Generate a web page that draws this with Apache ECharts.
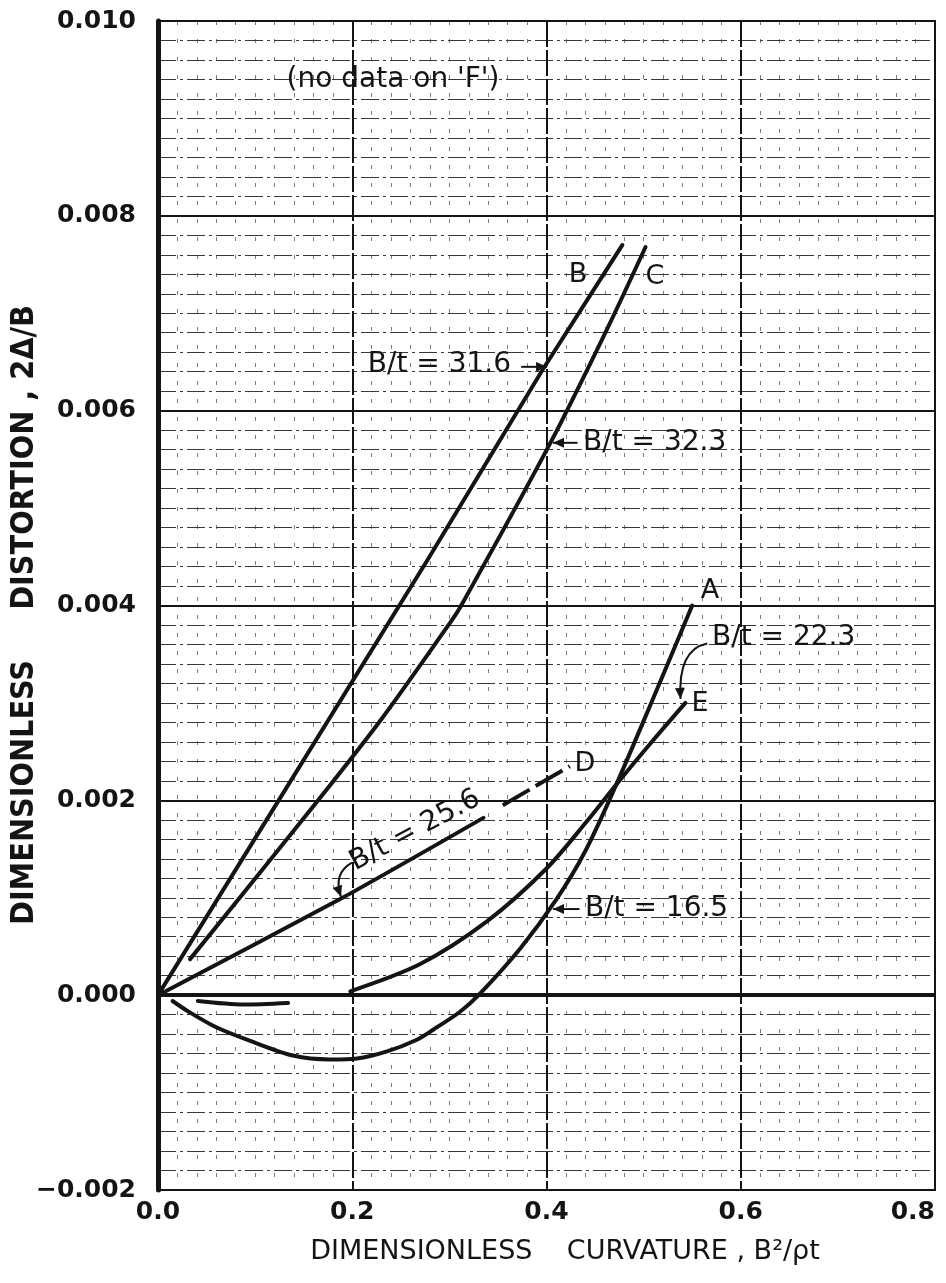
<!DOCTYPE html>
<html>
<head>
<meta charset="utf-8">
<script src="https://cdn.jsdelivr.net/npm/echarts@6/dist/echarts.min.js"></script>
<style>
  html, body { margin: 0; padding: 0; background: #ffffff; }
  #chart { width: 946px; height: 1283px; }
</style>
</head>
<body>
<div id="chart"></div>
<script>
// Axis ticks
const xTicks = [0.0, 0.2, 0.4, 0.6, 0.8];
const yTicks = [-0.002, 0.000, 0.002, 0.004, 0.006, 0.008, 0.010];

// Curvature (B^2/rho t) vs distortion (2Δ/B) for each specimen
const curveB = [[0, 0], [0.118, 0.0019], [0.277, 0.00446], [0.396, 0.00642], [0.478, 0.0077]];          // B/t = 31.6
const curveC = [[0.033, 0.00037], [0.156, 0.00189], [0.229, 0.00282], [0.297, 0.00377], [0.311, 0.00398],
                [0.404, 0.00567], [0.462, 0.00683], [0.502, 0.00768]];                                    // B/t = 32.3
const curveD = [[0, 0], [0.19, 0.001], [0.335, 0.00182]];                                                 // B/t = 25.6
const curveDExtended = [[0.355, 0.00195], [0.424, 0.00235]];                                              // B/t = 25.6 (dashed)
const curveE = [[0.198, 0.00004], [0.27, 0.00032], [0.339, 0.00076], [0.40, 0.0013], [0.442, 0.00179],
                [0.47, 0.00214], [0.505, 0.00256], [0.543, 0.0030]];                                      // B/t = 22.3
const curveA = [[0.015, -0.00006], [0.03, -0.00016], [0.06, -0.00033], [0.095, -0.00047], [0.139, -0.00062],
                [0.177, -0.00066], [0.205, -0.00065], [0.235, -0.00058], [0.266, -0.00046], [0.284, -0.00035],
                [0.311, -0.00017], [0.33, 0], [0.373, 0.00048], [0.41, 0.00098], [0.44, 0.00148],
                [0.47, 0.00212], [0.51, 0.00305], [0.55, 0.0040]];                                        // B/t = 16.5
const shortSegment = [[0.041, -0.00006], [0.088, -0.0000957], [0.134, -0.00008]];

const INK = '#141414';
const FONT = "'DejaVu Sans', 'Noto Sans', sans-serif";

function fmtY(v) {
  const s = Math.abs(v).toFixed(3);
  return v < -1e-9 ? '\u2212' + s : s;
}

const chart = echarts.init(document.getElementById('chart'), null, { renderer: 'canvas' });

function curve(name, data, opts) {
  return Object.assign({
    name: name,
    type: 'line',
    data: data,
    showSymbol: false,
    symbol: 'none',
    silent: true,
    animation: false,
    smooth: 0.3,
    lineStyle: { color: INK, width: 4, cap: 'round', join: 'round' },
    z: 5
  }, opts || {});
}

chart.setOption({
  animation: false,
  backgroundColor: '#ffffff',
  grid: {
    left: 158, right: 11, top: 21, bottom: 93,
    outerBoundsMode: 'none',
    containLabel: false,
    show: true, borderColor: INK, borderWidth: 2, backgroundColor: 'transparent'
  },
  xAxis: {
    type: 'value',
    min: xTicks[0], max: xTicks[xTicks.length - 1], interval: 0.2,
    axisLine: { onZero: false, show: true, lineStyle: { color: INK, width: 2 } },
    axisTick: { show: false },
    axisLabel: {
      margin: 10, color: INK, fontFamily: FONT, fontSize: 25, fontWeight: 'bold',
      alignMaxLabel: 'right',
      formatter: v => v.toFixed(1)
    },
    splitLine: { show: true, lineStyle: { color: INK, width: 2, type: [26, 3] } },
    minorTick: { show: false, splitNumber: 10 },
    minorSplitLine: { show: true, lineStyle: { color: '#444', width: 1, type: [4, 14], opacity: 0.7 } }
  },
  yAxis: {
    type: 'value',
    min: yTicks[0], max: yTicks[yTicks.length - 1], interval: 0.002,
    axisLine: { show: true, lineStyle: { color: INK, width: 5 } },
    axisTick: { show: false },
    axisLabel: {
      margin: 22, color: INK, fontFamily: FONT, fontSize: 25, fontWeight: 'bold',
      formatter: fmtY
    },
    splitLine: { show: true, lineStyle: { color: INK, width: 2 } },
    minorTick: { show: false, splitNumber: 10 },
    minorSplitLine: { show: true, lineStyle: { color: '#222', width: 1, type: [18, 4, 3, 4], opacity: 0.9 } }
  },
  series: [
    curve('B', curveB, { smooth: false }),
    curve('C', curveC),
    curve('D', curveD, { smooth: 0.2 }),
    curve('D-dashed', curveDExtended, { smooth: false, lineStyle: { color: INK, width: 4, type: [31, 7] } }),
    curve('E', curveE),
    curve('A', curveA),
    curve('short', shortSegment, {
      markLine: {
        silent: true, symbol: 'none', label: { show: false },
        lineStyle: { color: INK, width: 4, type: 'solid' },
        data: [{ yAxis: 0 }]
      }
    })
  ]
});

// Annotation anchors (data coordinates)
const textLabels = [
  { text: "(no data on 'F')", at: [0.242, 0.0094], align: 'center', size: 28 },
  { text: 'B', at: [0.4324, 0.00739], align: 'center', size: 27 },
  { text: 'C', at: [0.5117, 0.00737], align: 'center', size: 27 },
  { text: 'B/t = 31.6', at: [0.216, 0.00647], align: 'left', size: 28 },
  { text: 'B/t = 32.3', at: [0.4376, 0.00567], align: 'left', size: 28 },
  { text: 'A', at: [0.5683, 0.00415], align: 'center', size: 27 },
  { text: 'B/t = 22.3', at: [0.5704, 0.00367], align: 'left', size: 28 },
  { text: 'E', at: [0.558, 0.00299], align: 'center', size: 27 },
  { text: 'D', at: [0.4396, 0.002375], align: 'center', size: 27 },
  { text: 'B/t = 16.5', at: [0.4396, 0.000884], align: 'left', size: 28 },
  { text: 'B/t = 25.6', at: [0.2646, 0.00169], align: 'center', size: 28, rotate: 28 }
];
const straightArrows = [
  { from: [0.374, 0.00645], to: [0.4006, 0.00645] },
  { from: [0.432, 0.00567], to: [0.4067, 0.00567] },
  { from: [0.434, 0.000884], to: [0.4067, 0.000884] }
];
const curvedArrows = [
  { from: [0.1997, 0.00136], ctrl: [0.180, 0.00125], to: [0.1884, 0.00101] },
  { from: [0.5655, 0.00361], ctrl: [0.535, 0.00355], to: [0.538, 0.00304] }
];

function px(p) { return chart.convertToPixel({ gridIndex: 0 }, p); }

function arrowHead(tip, dirFrom, size) {
  const dx = tip[0] - dirFrom[0], dy = tip[1] - dirFrom[1];
  const len = Math.sqrt(dx * dx + dy * dy) || 1;
  const ux = dx / len, uy = dy / len;
  const bx = tip[0] - ux * size, by = tip[1] - uy * size;
  const w = size * 0.45;
  return {
    type: 'polygon', silent: true, z: 20,
    shape: { points: [tip, [bx - uy * w, by + ux * w], [bx + uy * w, by - ux * w]] },
    style: { fill: INK }
  };
}

function buildGraphics() {
  const g = [];
  textLabels.forEach(l => {
    const p = px(l.at);
    g.push({
      type: 'text', x: p[0], y: p[1], silent: true, z: 20,
      rotation: l.rotate ? l.rotate * Math.PI / 180 : 0,
      style: {
        text: l.text, fill: INK, font: l.size + 'px ' + FONT,
        textAlign: l.align, textVerticalAlign: 'middle'
      }
    });
  });
  straightArrows.forEach(a => {
    const f = px(a.from), t = px(a.to);
    g.push({ type: 'line', silent: true, z: 20, shape: { x1: f[0], y1: f[1], x2: t[0], y2: t[1] },
             style: { stroke: INK, lineWidth: 2 } });
    g.push(arrowHead(t, f, 11));
  });
  curvedArrows.forEach(a => {
    const f = px(a.from), c = px(a.ctrl), t = px(a.to);
    g.push({ type: 'bezierCurve', silent: true, z: 20,
             shape: { x1: f[0], y1: f[1], x2: t[0], y2: t[1], cpx1: c[0], cpy1: c[1] },
             style: { stroke: INK, lineWidth: 2, fill: null } });
    g.push(arrowHead(t, c, 11));
  });
  // axis titles
  g.push({
    type: 'text', x: 565, y: 1252, silent: true,
    style: { text: 'DIMENSIONLESS    CURVATURE , B²/ρt', fill: INK, font: '27px ' + FONT,
             textAlign: 'center', textVerticalAlign: 'middle' }
  });
  g.push({
    type: 'text', x: 25, y: 615, rotation: Math.PI / 2, silent: true,
    style: { text: 'DIMENSIONLESS     DISTORTION , 2Δ/B', fill: INK,
             font: "bold 32px 'DejaVu Sans Condensed', 'Liberation Sans Narrow', " + FONT,
             textAlign: 'center', textVerticalAlign: 'middle' }
  });
  return g;
}

chart.setOption({ graphic: buildGraphics() });
</script>
</body>
</html>
